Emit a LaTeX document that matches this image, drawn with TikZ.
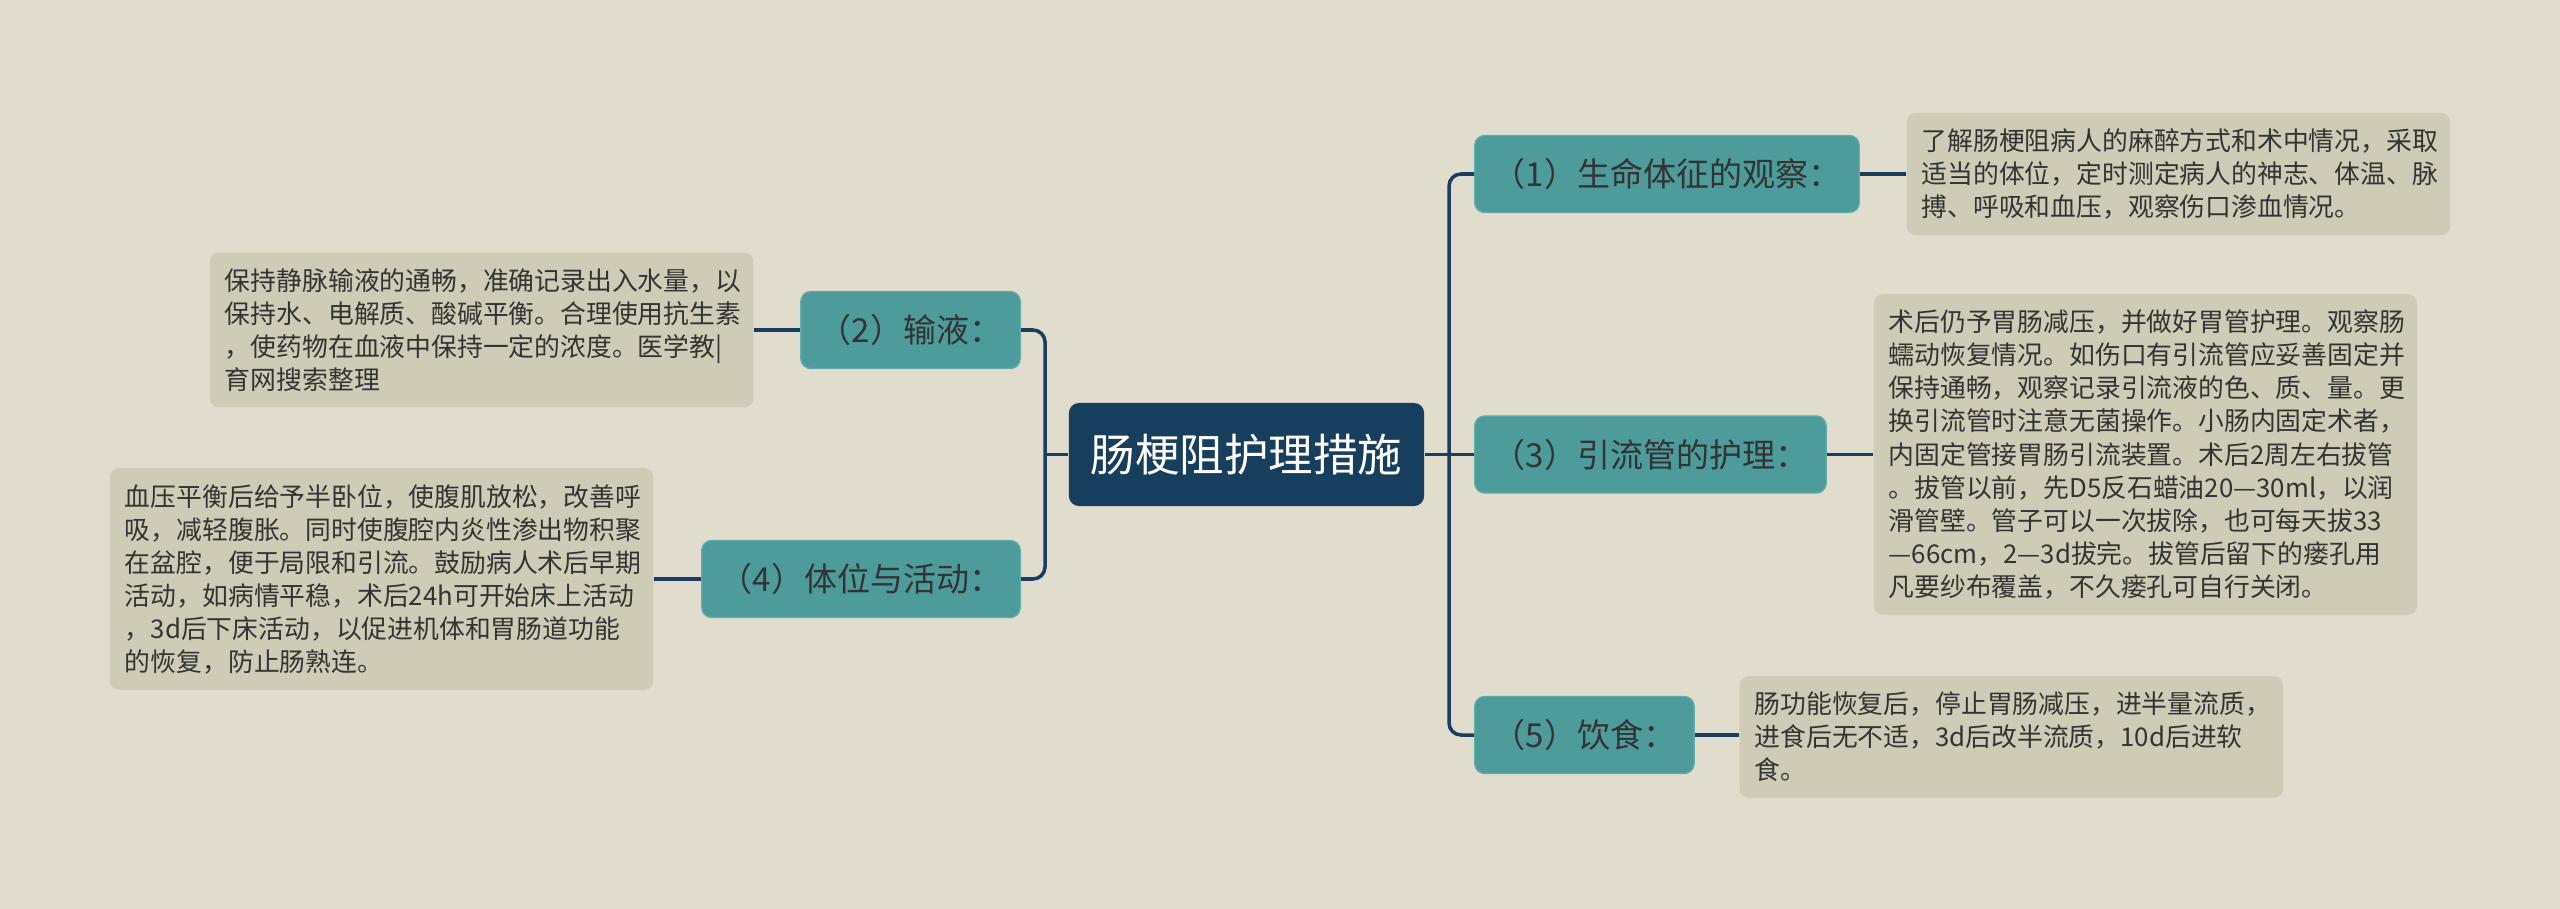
\documentclass[tikz,border=0pt]{standalone}
\usepackage{fontspec}
\setmainfont{Noto Sans CJK SC}
\usepackage{tikz}
\definecolor{bgcol}{HTML}{E0DDCF}
\definecolor{topicfill}{HTML}{183E5D}
\definecolor{branchfill}{HTML}{4D9B9B}
\definecolor{branchedge}{HTML}{62ABA8}
\definecolor{detailfill}{HTML}{CECCB6}
\definecolor{linkcol}{HTML}{1B3E5E}
\definecolor{textcol}{HTML}{333333}
\tikzset{
    topic/.style={
    rectangle,rounded corners=0.1cm,fill=topicfill,text=white,
    font=\fontsize{12.66pt}{15pt}\selectfont,minimum width=3.55cm,minimum height=1.03cm
    },
    branch/.style={
    rectangle,rounded corners=0.1cm,fill=branchfill,draw=branchedge,line width=0.4pt,text=textcol,
    font=\fontsize{9.39pt}{11pt}\selectfont,inner xsep=0.18cm,minimum height=0.77cm
    },
    detail/.style={
    rectangle,rounded corners=0.09cm,fill=detailfill,text=textcol,align=left,
    font=\fontsize{7.34pt}{9.39pt}\selectfont,text width=5.13cm,inner xsep=0.15cm,inner ysep=0.16cm
    },
    link/.style={
    draw=linkcol,line width=1pt,rounded corners=0.12cm
    },
}
\begin{document}
\begin{tikzpicture}[x=0.01cm,y=-0.01cm]
   \fill[bgcol] (0,0) rectangle (2560,909);
   \useasboundingbox (0,0) rectangle (2560,909);

   %centre
   \node[topic] (t0) at (1246.5,454.5) {肠梗阻护理措施};
   \coordinate (lt) at (1045,454.5);
   \coordinate (rt) at (1449,454.5);

   %right side
   \node[branch,anchor=west] (b1) at (1474,174) {（1）生命体征的观察：};
   \node[branch,anchor=west] (b3) at (1474,454.5) {（3）引流管的护理：};
   \node[branch,anchor=west] (b5) at (1474,735) {（5）饮食：};

   \node[detail,anchor=west] (d1) at (1906,174) {了解肠梗阻病人的麻醉方式和术中情况，采取\\适当的体位，定时测定病人的神志、体温、脉\\搏、呼吸和血压，观察伤口渗血情况。};
   \node[detail,anchor=west] (d3) at (1873,454.5) {术后仍予胃肠减压，并做好胃管护理。观察肠\\蠕动恢复情况。如伤口有引流管应妥善固定并\\保持通畅，观察记录引流液的色、质、量。更\\换引流管时注意无菌操作。小肠内固定术者，\\内固定管接胃肠引流装置。术后2周左右拔管\\。拔管以前，先D5反石蜡油20—30ml，以润\\滑管壁。管子可以一次拔除，也可每天拔33\\—66cm，2—3d拔完。拔管后留下的瘘孔用\\凡要纱布覆盖，不久瘘孔可自行关闭。};
   \node[detail,anchor=west] (d5) at (1739,737) {肠功能恢复后，停止胃肠减压，进半量流质，\\进食后无不适，3d后改半流质，10d后进软\\食。};

   %left side
   \node[branch,anchor=east] (b2) at (1021,330) {（2）输液：};
   \node[branch,anchor=east] (b4) at (1021,579) {（4）体位与活动：};

   \node[detail,anchor=east] (d2) at (754,330) {保持静脉输液的通畅，准确记录出入水量，以\\保持水、电解质、酸碱平衡。合理使用抗生素\\，使药物在血液中保持一定的浓度。医学教|\\育网搜索整理};
   \node[detail,anchor=east] (d4) at (654,579) {血压平衡后给予半卧位，使腹肌放松，改善呼\\吸，减轻腹胀。同时使腹腔内炎性渗出物积聚\\在盆腔，便于局限和引流。鼓励病人术后早期\\活动，如病情平稳，术后24h可开始床上活动\\，3d后下床活动，以促进机体和胃肠道功能\\的恢复，防止肠熟连。};

   %trunks
   \draw[link] (b1.west) -| (rt) |- (b5.west);
   \draw[link] (t0.east) -- (b3.west);
   \draw[link] (b2.east) -| (lt) |- (b4.east);
   \draw[link] (t0.west) -- (lt);

   %details
   \draw[link] (b1.east) -- (d1.west);
   \draw[link] (b3.east) -- (d3.west);
   \draw[link] (b5.east) -- (b5.east -| d5.west);
   \draw[link] (b2.west) -- (d2.east);
   \draw[link] (b4.west) -- (d4.east);
\end{tikzpicture}
\end{document}
